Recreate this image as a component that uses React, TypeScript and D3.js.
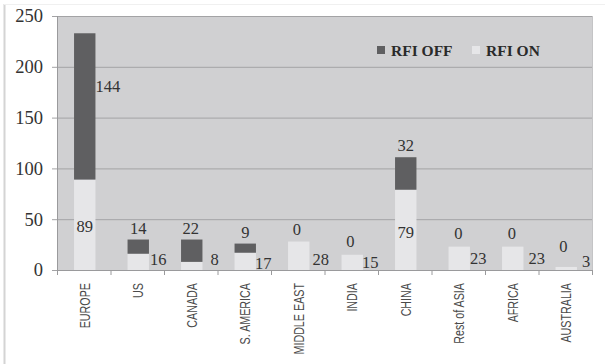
import React from "react";
import * as d3 from "d3";

const categories = ["EUROPE", "US", "CANADA", "S. AMERICA", "MIDDLE EAST", "INDIA", "CHINA", "Rest of ASIA", "AFRICA", "AUSTRALIA"];
const rfiOn = [89, 16, 8, 17, 28, 15, 79, 23, 23, 3];
const rfiOff = [144, 14, 22, 9, 0, 0, 32, 0, 0, 0];
const yTicks = [0, 50, 100, 150, 200, 250];
const seriesNames = ["RFI OFF", "RFI ON"];

// label placement (layout): [anchor mode, dx from bar edge/center, y in value units]
const offLabelLayout: [string, number, number][] = [
  ["right", 0, 181], ["center", 0, 41], ["center", -1, 41], ["center", 0, 37], ["center", -2, 40],
  ["center", -2, 28], ["center", 0, 123], ["center", -1, 36], ["center", -1, 36], ["center", -3, 23],
];
const onLabelLayout: [string, number, number][] = [
  ["center", 0, 43], ["right", 1, 11], ["right", 8, 11], ["right", -1, 7], ["right", 3, 11],
  ["right", -1, 8], ["center", 0, 37], ["right", 0, 12], ["right", 5, 12], ["right", 5, 9],
];

const W = 605, H = 364;
const left = 58, right = 593, top = 16, bottom = 270;

export default function App() {
  const x = d3.scaleBand<string>().domain(categories).range([left, right]).paddingInner(0.6).paddingOuter(0.3);
  const y = d3.scaleLinear().domain([0, 250]).range([bottom, top]);
  const bw = x.bandwidth();
  const offColor = "#5f5f61";
  const onColor = "#e6e6e8";
  const serif = "'Liberation Serif', 'DejaVu Serif', serif";
  const sans = "'Liberation Sans', Arial, sans-serif";

  const label = (layout: [string, number, number], xs: number, v: number, key: string) => {
    const [mode, dx, yv] = layout;
    const cx = mode === "center" ? xs + bw / 2 + dx : xs + bw + dx;
    return (
      <text key={key} x={cx} y={y(yv)} dy="0.35em" textAnchor={mode === "center" ? "middle" : "start"}
        fontFamily={serif} fontSize={16.5} fill="#333">{v}</text>
    );
  };

  return (
    <svg width={W} height={H} style={{ position: "absolute", left: 0, top: 0 }}>
      <rect x={0} y={0} width={W} height={H} fill="#fff" />
      <line x1={4.5} x2={4.5} y1={4} y2={H} stroke="#d4d4d4" strokeWidth={2} />
      <line x1={4} x2={W} y1={4.5} y2={4.5} stroke="#f0f0f0" strokeWidth={1} />
      <rect x={left} y={top} width={right - left} height={bottom - top} fill="#d0d0d2" />
      {yTicks.map((t) => (
        <g key={t}>
          {t > 0 && <line x1={left} x2={right} y1={y(t) + 0.5} y2={y(t) + 0.5} stroke="#a3a3a5" strokeWidth={1} />}
          <line x1={left - 6} x2={left} y1={y(t) + 0.5} y2={y(t) + 0.5} stroke="#a3a3a5" />
          <text x={43} y={y(t)} dy="0.35em" textAnchor="end" fontFamily={serif} fontSize={18.5} fill="#333">{t}</text>
        </g>
      ))}
      <line x1={right - 0.5} x2={right - 0.5} y1={top} y2={bottom} stroke="#c4c4c6" />
      {categories.map((c, i) => {
        const xs = x(c)!;
        return (
          <g key={c}>
            <rect x={xs} y={y(rfiOn[i])} width={bw} height={y(0) - y(rfiOn[i])} fill={onColor} />
            {rfiOff[i] > 0 && (
              <rect x={xs} y={y(rfiOn[i] + rfiOff[i])} width={bw} height={y(rfiOn[i]) - y(rfiOn[i] + rfiOff[i])} fill={offColor} />
            )}
          </g>
        );
      })}
      <line x1={left - 0.5} x2={left - 0.5} y1={top} y2={bottom + 5} stroke="#9a9a9c" />
      <line x1={left} x2={right} y1={bottom + 0.5} y2={bottom + 0.5} stroke="#9a9a9c" />
      {d3.range(categories.length + 1).map((k) => {
        const xx = left + k * x.step() - 0.5;
        return <line key={k} x1={xx} x2={xx} y1={bottom} y2={bottom + 5} stroke="#9a9a9c" />;
      })}
      {categories.map((c, i) => {
        const xs = x(c)!;
        return (
          <g key={"l" + c}>
            {label(offLabelLayout[i], xs, rfiOff[i], "off" + i)}
            {label(onLabelLayout[i], xs, rfiOn[i], "on" + i)}
          </g>
        );
      })}
      {categories.map((c) => {
        const cx = x(c)! + bw / 2;
        return (
          <g key={"x" + c} transform={`translate(${cx + 5},283) rotate(-90) scale(0.74,1)`}>
            <text x={0} y={0} textAnchor="end" fontFamily={sans} fontSize={14.5} fill="#4a4a4a">{c}</text>
          </g>
        );
      })}
      <g>
        <rect x={377} y={46} width={8} height={8} fill={offColor} />
        <text x={391} y={55.5} fontFamily={serif} fontWeight="bold" fontSize={15.5} fill="#2a2a2a">{seriesNames[0]}</text>
        <rect x={472} y={46} width={8} height={8} fill={onColor} />
        <text x={486} y={55.5} fontFamily={serif} fontWeight="bold" fontSize={15.5} fill="#2a2a2a">{seriesNames[1]}</text>
      </g>
    </svg>
  );
}
